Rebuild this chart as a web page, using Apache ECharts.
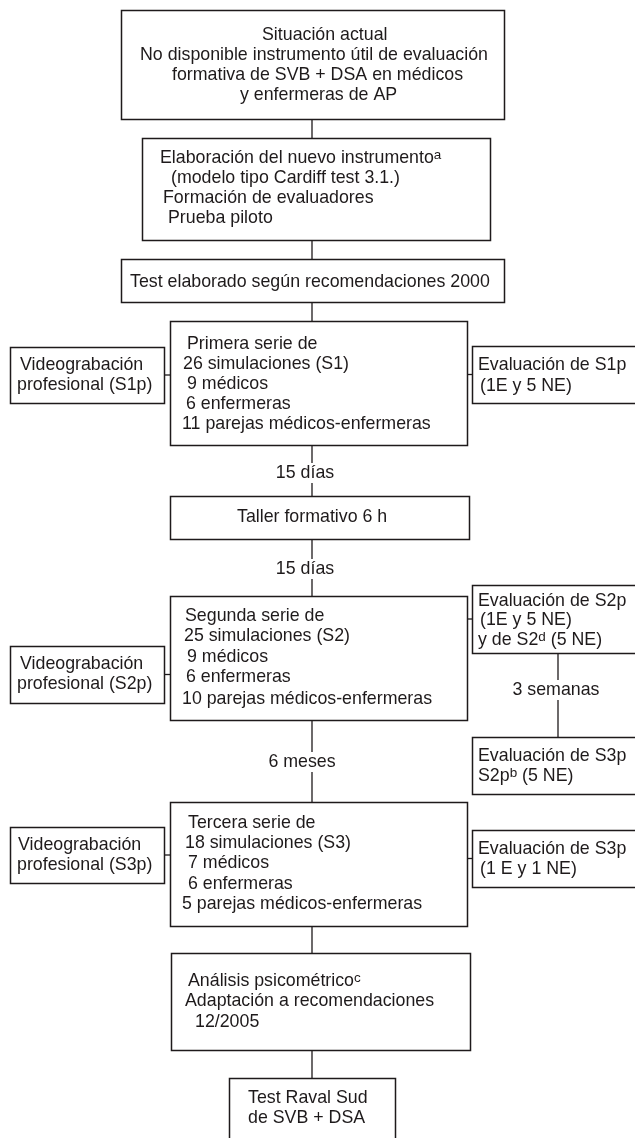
<!DOCTYPE html>
<html><head><meta charset="utf-8">
<script src="https://cdn.jsdelivr.net/npm/echarts@6/dist/echarts.min.js"></script>
<style>html,body{margin:0;padding:0;background:#fff}#c{width:635px;height:1138px}</style>
</head><body><div id="c"></div>
<script>
// ---------- content ----------
const boxIds = ['situacion','elaboracion','test2000','serie1','video1','eval1','taller','serie2','video2','eval2','eval2b','serie3','video3','eval3','analisis','final'];
const boxLines = [
  ['Situación actual','No disponible instrumento útil de evaluación','formativa de SVB + DSA en médicos','y enfermeras de AP'],
  ['Elaboración del nuevo instrumento^a','(modelo tipo Cardiff test 3.1.)','Formación de evaluadores','Prueba piloto'],
  ['Test elaborado según recomendaciones 2000'],
  ['Primera serie de','26 simulaciones (S1)','9 médicos','6 enfermeras','11 parejas médicos-enfermeras'],
  ['Videograbación','profesional (S1p)'],
  ['Evaluación de S1p','(1E y 5 NE)'],
  ['Taller formativo 6 h'],
  ['Segunda serie de','25 simulaciones (S2)','9 médicos','6 enfermeras','10 parejas médicos-enfermeras'],
  ['Videograbación','profesional (S2p)'],
  ['Evaluación de S2p','(1E y 5 NE)','y de S2^d (5 NE)'],
  ['Evaluación de S3p','S2p^b (5 NE)'],
  ['Tercera serie de','18 simulaciones (S3)','7 médicos','6 enfermeras','5 parejas médicos-enfermeras'],
  ['Videograbación','profesional (S3p)'],
  ['Evaluación de S3p','(1 E y 1 NE)'],
  ['Análisis psicométrico^c','Adaptación a recomendaciones','12/2005'],
  ['Test Raval Sud','de SVB + DSA']
];
const linkFrom   = ['situacion','elaboracion','test2000','serie1','taller','serie2','serie3','analisis','video1','serie1','video2','serie2','eval2','video3','serie3'];
const linkTo     = ['elaboracion','test2000','serie1','taller','serie2','serie3','analisis','final','serie1','eval1','serie2','eval2','eval2b','serie3','eval3'];
const linkLabels = ['','','','15 días','15 días','6 meses','','','','','','','3 semanas','','',];

// ---------- layout (page units) ----------
const boxRect = {
  situacion:[121,10,504,119], elaboracion:[142,138,490,240], test2000:[121,259,504,302],
  serie1:[170,321,467,445], video1:[10,347,164,403], eval1:[472,346,640,403],
  taller:[170,496,469,539],
  serie2:[170,596,467,720], video2:[10,646,164,703], eval2:[472,585,640,653], eval2b:[472,737,640,794],
  serie3:[170,802,467,926], video3:[10,827,164,883], eval3:[472,830,640,887],
  analisis:[171,953,470,1050], final:[229,1078,395,1145]
};
const lineX = {
  situacion:[262,140,172,240], elaboracion:[160,171,163,168], test2000:[130],
  serie1:[187,183,187,186,182], video1:[20,17], eval1:[478,480], taller:[237],
  serie2:[185,184,187,186,182], video2:[20,17], eval2:[478,480,478], eval2b:[478,478],
  serie3:[188,185,188,188,182], video3:[18,17], eval3:[478,480],
  analisis:[188,185,195], final:[248,248]
};
const lineY = {
  situacion:[35,55,75,95], elaboracion:[158,178,198,218], test2000:[282],
  serie1:[344,364,384,404,424], video1:[365,385], eval1:[365,386], taller:[517],
  serie2:[616,636,657,677,699], video2:[664,684], eval2:[601,620,640], eval2b:[756,776],
  serie3:[823,843,863,884,904], video3:[845,865], eval3:[849,869],
  analisis:[981,1001,1022], final:[1098,1118]
};
const spineX = 312, sideSpineX = 558;
const labelPos = {3:[305,473], 4:[305,569], 5:[302,762], 12:[556,690]};

const ink = '#1e1a1b';
const FONT = '"Liberation Sans", Arial, Helvetica, sans-serif';
const FS = 17.8;
const rich = {
  n: {fontSize: FS, fontFamily: FONT, fill: ink, lineHeight: 20},
  s: {fontSize: 13.5, fontFamily: FONT, fill: ink, lineHeight: 7, verticalAlign: 'top'}
};
function toRich(t) {
  const k = t.indexOf('^');
  if (k < 0) return '{n|' + t + '}';
  const sup = t.charAt(k + 1);
  const rest = t.slice(k + 2);
  return '{n|' + t.slice(0, k) + '}{s|' + sup + '}' + (rest ? '{n|' + rest + '}' : '');
}

function linkEnds(i) {
  const a = boxRect[linkFrom[i]], b = boxRect[linkTo[i]];
  if (b[1] >= a[3]) { // vertical
    const x = (linkFrom[i] === 'eval2') ? sideSpineX : spineX;
    return [[x, a[3]], [x, b[1]]];
  }
  const side = (a[0] < 170 || a[0] > 467) ? a : b;
  const y = (side[1] + side[3]) / 2;
  if (a[2] <= b[0]) return [[a[2], y], [b[0], y]];
  return [[b[2], y], [a[0], y]];
}

const chart = echarts.init(document.getElementById('c'), null, {renderer: 'canvas'});
chart.setOption({
  animation: false,
  backgroundColor: '#fff',
  grid: {left: 0, right: 0, top: 0, bottom: 0},
  xAxis: {type: 'value', min: 0, max: 635, show: false},
  yAxis: {type: 'value', min: 0, max: 1138, inverse: true, show: false},
  series: [
    {
      type: 'custom', name: 'links', z: 1,
      data: linkFrom.map((_, i) => [i]),
      renderItem(params, api) {
        const i = api.value(0);
        const e = linkEnds(i);
        const p0 = api.coord(e[0]), p1 = api.coord(e[1]);
        return {type: 'line', shape: {x1: p0[0], y1: p0[1], x2: p1[0], y2: p1[1]},
                style: {stroke: ink, lineWidth: 1.3}};
      }
    },
    {
      type: 'custom', name: 'boxes', z: 2,
      data: boxIds.map((_, i) => [i]),
      renderItem(params, api) {
        const i = api.value(0);
        const id = boxIds[i], r = boxRect[id];
        const p0 = api.coord([r[0], r[1]]), p1 = api.coord([r[2], r[3]]);
        const children = [{
          type: 'rect',
          shape: {x: Math.round(p0[0]) + 0.5, y: Math.round(p0[1]) + 0.5,
                  width: Math.round(p1[0] - p0[0]), height: Math.round(p1[1] - p0[1])},
          style: {fill: '#fff', stroke: ink, lineWidth: 1.5}
        }];
        boxLines[i].forEach((t, j) => {
          const pt = api.coord([lineX[id][j], lineY[id][j]]);
          children.push({type: 'text', style: {
            text: toRich(t), x: pt[0], y: pt[1], align: 'left', verticalAlign: 'middle',
            fontSize: FS, fontFamily: FONT, fill: ink, rich: rich
          }});
        });
        return {type: 'group', children: children};
      }
    },
    {
      type: 'custom', name: 'labels', z: 3,
      data: linkLabels.map((l, i) => [i]).filter(d => linkLabels[d[0]]),
      renderItem(params, api) {
        const i = api.value(0);
        const pt = api.coord(labelPos[i]);
        return {type: 'text', style: {
          text: linkLabels[i], x: pt[0], y: pt[1], align: 'center', verticalAlign: 'middle',
          fontSize: FS, fontFamily: FONT, fill: ink, backgroundColor: '#fff', padding: [1, 1]
        }};
      }
    }
  ]
});
</script></body></html>
